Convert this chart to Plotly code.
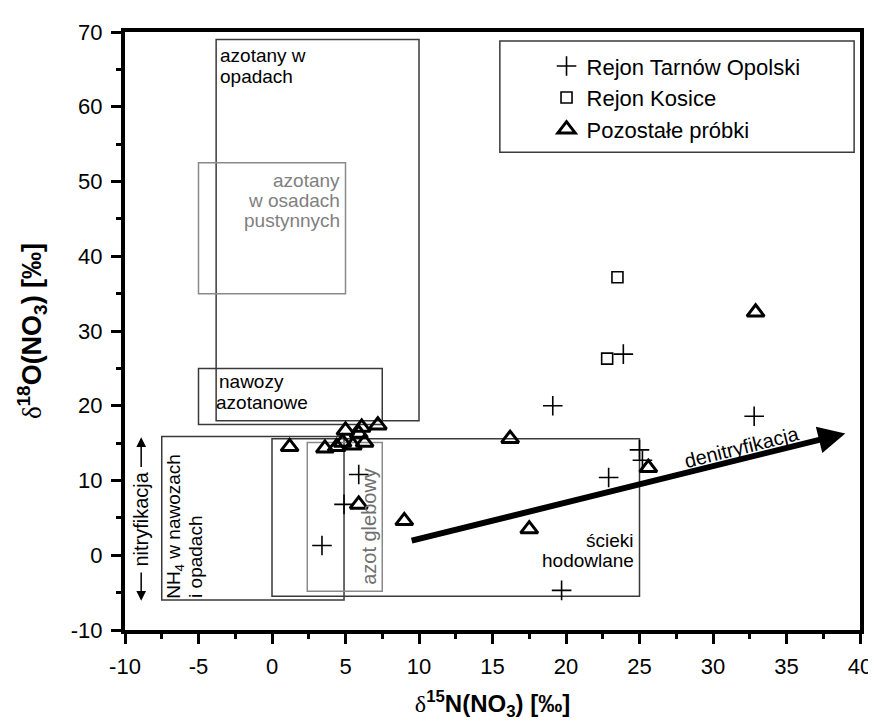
import plotly.graph_objects as go

# ---- data ----
tarnow_x = [23.9, 19.1, 32.8, 25.0, 25.2, 22.9, 19.7, 5.9, 4.9, 3.4]
tarnow_y = [26.9, 20.0, 18.6, 14.1, 12.7, 10.4, -4.7, 10.8, 6.8, 1.3]

kosice_x = [23.5, 22.8]
kosice_y = [37.2, 26.3]

other_x = [32.9, 16.2, 25.6, 17.5, 1.2, 3.6, 4.4, 4.8, 5.0, 5.5, 5.9, 6.1, 6.3, 7.2, 5.9, 9.0]
other_y = [32.5, 15.6, 11.7, 3.5, 14.5, 14.3, 14.5, 15.1, 16.7, 14.7, 16.3, 17.1, 15.1, 17.4, 6.8, 4.6]

series_names = ["Rejon Tarnów Opolski", "Rejon Kosice", "Pozostałe próbki"]

# source fields (rectangles)
box_x0 = [-3.8, -5.0, -5.0, -7.5, 0.0, 2.4]
box_x1 = [10.0, 5.0, 7.5, 4.9, 25.0, 7.5]
box_y0 = [18.0, 35.0, 17.5, -6.0, -5.5, -4.8]
box_y1 = [69.0, 52.5, 25.0, 15.9, 15.6, 15.1]
box_gray = [False, True, False, False, False, True]

# denitrification arrow (tail -> head)
denit_x = [9.4, 39.0]
denit_y = [1.9, 16.3]

x_ticks = [-10, -5, 0, 5, 10, 15, 20, 25, 30, 35, 40]
y_ticks = [-10, 0, 10, 20, 30, 40, 50, 60, 70]

FONT = "Liberation Sans, Arial, sans-serif"
DARK = "#3a3a3a"
GRAY = "#8a8a8a"

fig = go.Figure()

fig.add_trace(go.Scatter(
    x=tarnow_x, y=tarnow_y, mode="markers", name=series_names[0],
    marker=dict(symbol="cross-thin", size=14, color="black",
                line=dict(color="black", width=1.6))))
fig.add_trace(go.Scatter(
    x=kosice_x, y=kosice_y, mode="markers", name=series_names[1],
    marker=dict(symbol="square-open", size=11, color="black",
                line=dict(color="black", width=1.6))))
fig.add_trace(go.Scatter(
    x=other_x, y=other_y, mode="markers", name=series_names[2],
    marker=dict(symbol="triangle-up-open", size=15, color="black",
                line=dict(color="black", width=3))))

shapes = []
for x0, x1, y0, y1, g in zip(box_x0, box_x1, box_y0, box_y1, box_gray):
    shapes.append(dict(type="rect", xref="x", yref="y", x0=x0, x1=x1, y0=y0, y1=y1,
                       line=dict(color=GRAY if g else DARK, width=1.5),
                       fillcolor="rgba(0,0,0,0)", layer="below"))
# legend frame
shapes.append(dict(type="rect", xref="x", yref="y", x0=15.5, x1=39.6, y0=53.9, y1=68.8,
                   line=dict(color=DARK, width=1.5), fillcolor="rgba(0,0,0,0)", layer="below"))

ann = []
def txt(x, y, t, size=19, color="black", xanchor="center", yanchor="middle", angle=0, align="center"):
    ann.append(dict(x=x, y=y, xref="x", yref="y", text=t, showarrow=False, borderpad=0,
                    font=dict(family=FONT, size=size, color=color),
                    xanchor=xanchor, yanchor=yanchor, textangle=angle, align=align))

# box labels (one annotation per line to keep the tight line spacing of the original)
txt(-3.6, 66.8, "azotany w", xanchor="left")
txt(-3.6, 64.0, "opadach", xanchor="left")
txt(4.7, 50.2, "azotany", color="#808080", xanchor="right")
txt(4.7, 47.5, "w osadach", color="#808080", xanchor="right")
txt(4.7, 44.8, "pustynnych", color="#808080", xanchor="right")
txt(-3.7, 23.2, "nawozy", xanchor="left")
txt(-3.9, 20.4, "azotanowe", xanchor="left")
txt(24.7, 2.0, "ścieki", xanchor="right")
txt(24.7, -0.7, "hodowlane", xanchor="right")
txt(-6.6, -5.9, "NH<sub>4</sub> w nawozach", xanchor="center", yanchor="bottom", angle=-90)
txt(-5.2, -5.9, "i opadach", xanchor="center", yanchor="bottom", angle=-90)
txt(6.6, 3.8, "azot glebowy", size=20, color="#707070", angle=-90)
txt(-8.9, 4.8, "nitryfikacja", size=20, angle=-90)
txt(32.0, 14.5, "denitryfikacja", size=20, angle=-14)

# nitrification double arrow
ann.append(dict(x=-8.9, y=15.8, ax=-8.9, ay=11.6, xref="x", yref="y", axref="x", ayref="y",
                text="", showarrow=True, arrowhead=2, arrowsize=1.3, arrowwidth=1.5, arrowcolor="black"))
ann.append(dict(x=-8.9, y=-6.1, ax=-8.9, ay=-2.1, xref="x", yref="y", axref="x", ayref="y",
                text="", showarrow=True, arrowhead=2, arrowsize=1.3, arrowwidth=1.5, arrowcolor="black"))
# denitrification arrow
ann.append(dict(x=denit_x[1], y=denit_y[1], ax=denit_x[0], ay=denit_y[0],
                xref="x", yref="y", axref="x", ayref="y",
                text="", showarrow=True, arrowhead=2, arrowsize=0.9, arrowwidth=6, arrowcolor="black"))

axis_common = dict(showgrid=False, zeroline=False, showline=True, linecolor="black", linewidth=4,
                   mirror=True, ticks="outside", ticklen=10, tickwidth=3, tickcolor="black",
                   ticklabelstandoff=4,
                   tickfont=dict(family=FONT, size=22, color="black"))

fig.update_layout(
    width=876, height=727,
    margin=dict(l=117, r=18, t=16, b=105),
    paper_bgcolor="white", plot_bgcolor="white",
    shapes=shapes, annotations=ann,
    showlegend=True,
    legend=dict(x=0.5735, y=0.978, xanchor="left", yanchor="top", bgcolor="rgba(0,0,0,0)",
                borderwidth=0, font=dict(family=FONT, size=22, color="black"), tracegroupgap=0),
    xaxis=dict(range=[-10, 40], tickvals=x_ticks, ticktext=[str(v) for v in x_ticks],
               minor=dict(ticks="outside", ticklen=5, tickwidth=3, tickcolor="black", dtick=2.5),
               title=dict(text='<span style="font-family:Liberation Serif;font-weight:normal">δ</span><sup>15</sup>N(NO<sub>3</sub>) [‰]',
                          font=dict(family=FONT, size=24, color="black", weight="bold"), standoff=18),
               **axis_common),
    yaxis=dict(range=[-10, 70], tickvals=y_ticks, ticktext=[str(v) for v in y_ticks],
               minor=dict(ticks="outside", ticklen=5, tickwidth=3, tickcolor="black", dtick=5),
               title=dict(text='<span style="font-family:Liberation Serif;font-weight:normal">δ</span><sup>18</sup>O(NO<sub>3</sub>) [‰]',
                          font=dict(family=FONT, size=27, color="black", weight="bold"), standoff=22),
               **axis_common),
)

fig.write_html("out.html")
